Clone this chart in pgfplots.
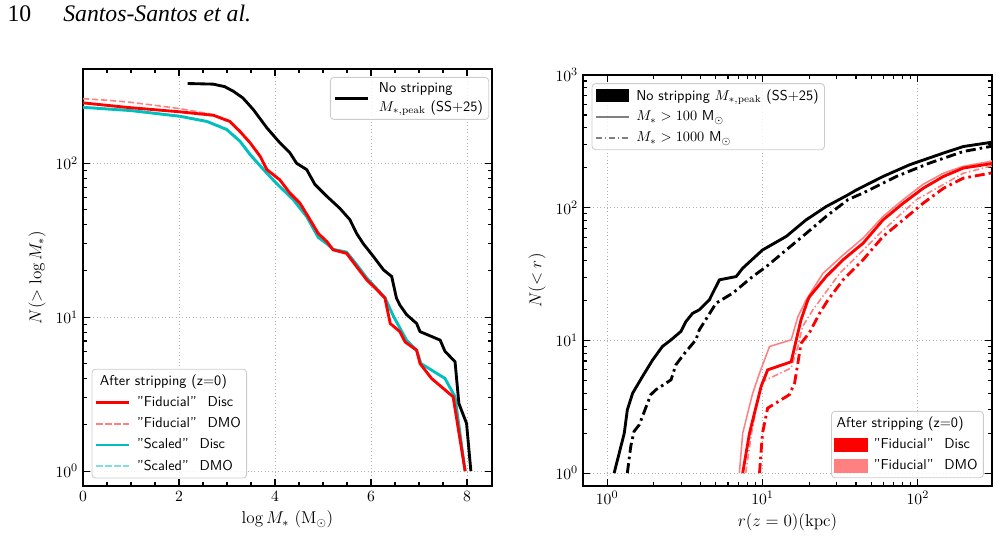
\documentclass[border=0pt]{standalone}
\usepackage{fontspec}
\newfontfamily\headfont{Liberation Serif}
\usepackage{pgfplots}
\pgfplotsset{compat=1.18}

\definecolor{fidred}{HTML}{FF0000}
\definecolor{fidredl}{HTML}{FF8080}
\definecolor{scal}{HTML}{00BFBF}
\definecolor{scall}{HTML}{80DFDF}
\definecolor{leggray}{HTML}{808080}
\definecolor{gridgray}{HTML}{B0B0B0}
\definecolor{framegray}{HTML}{CCCCCC}

\newcommand{\qgap}{\hspace{7.5pt}}

\pgfplotsset{
  paperstyle/.style={
    scale only axis,
    anchor=south west,
    axis line style={line width=1.6pt},
    tick style={black, line width=0.8pt},
    major tick length=5pt,
    minor tick length=2.8pt,
    tick align=inside,
    grid=major,
    major grid style={gridgray, dotted, line width=0.6pt},
    tick label style={font=\fontsize{10.95}{13}\selectfont},
    label style={font=\large},
    legend cell align=left,
    legend style={
      font=\sffamily\fontsize{10}{13}\selectfont,
      draw=framegray, line width=0.6pt, rounded corners=2.5pt,
      fill=white, fill opacity=0.8, text opacity=1,
      inner xsep=2pt, inner ysep=2pt, row sep=2.2pt, column sep=2.5pt,
      cells={align=left},
    },
  },
  legline/.style={legend image code/.code={\draw[sharp corners] (0pt,0pt) -- (23pt,0pt);}},
  legpatch/.style={legend image code/.code={\fill[sharp corners, fill opacity=1] (0pt,-4.3pt) rectangle (22.5pt,4.3pt);}},
  thickline/.style={line width=2pt},
  thinline/.style={line width=1.1pt},
  ddash/.style={dash pattern=on 4.4pt off 1.9pt},
  dashdotthick/.style={dash pattern=on 7pt off 2.8pt on 1.8pt off 2.8pt},
  dashdotthin/.style={dash pattern=on 4.5pt off 1.8pt on 1pt off 1.8pt},
}

\begin{document}
\begin{tikzpicture}
\useasboundingbox (0pt,0pt) rectangle (700pt,377.3pt);

% running head
\node[anchor=base west, inner sep=0pt, font=\headfont\fontsize{16.6}{20}\selectfont] at (5.1pt,362.1pt) {10};
\node[anchor=base west, inner sep=0pt, font=\headfont\itshape\fontsize{16.6}{20}\selectfont] at (44.1pt,362.1pt) {Santos-Santos et al.};

% ---------------- left panel: cumulative stellar mass function ----------------
\begin{axis}[paperstyle,
  at={(58.1pt,37.1pt)}, width=286.3pt, height=291.9pt,
  xmin=0, xmax=8.52, ymode=log, ymin=0.8, ymax=410,
  xtick={0,2,4,6,8}, minor x tick num=3, ytick={1,10,100},
  xlabel={$\log M_*\ (\mathrm{M}_\odot)$},
  ylabel={$N(>\log M_*)$},
  legend style={at={(0.021,0.018)}, anchor=south west},
]
% "Scaled" DMO
\addplot[forget plot, scall, thinline, ddash] coordinates {
(0,233) (1.0,222) (2.02,204) (2.58,189) (2.99,168) (3.27,141) (3.48,116) (3.76,92)
(4.03,75) (4.38,59) (4.66,46) (4.90,33.5) (5.08,30) (5.21,27.6) (5.49,26.5) (5.70,22)
(5.91,18) (6.12,15.3) (6.29,13.4) (6.47,10.1) (6.74,7.1) (6.95,6.1) (7.04,5.0)
(7.54,4.0) (7.75,3.04) (7.96,1.0)};
% "Scaled" Disc
\addplot[forget plot, scal, thickline] coordinates {
(0,231) (1.0,220) (2.02,202) (2.58,187) (2.99,166) (3.27,139) (3.48,114) (3.76,91)
(4.03,74) (4.38,58) (4.66,45) (4.90,33) (5.08,30) (5.21,27.6) (5.49,26.5) (5.70,22)
(5.91,18) (6.12,15.3) (6.29,13.4) (6.47,10.1) (6.74,7.1) (6.95,6.1) (7.04,5.0)
(7.54,4.0) (7.75,3.04) (7.96,1.0)};
% "Fiducial" DMO
\addplot[forget plot, fidredl, thinline, ddash] coordinates {
(0,263) (0.5,257) (1.0,249) (1.5,238) (2.0,227) (2.4,216) (2.72,207) (3.06,189)
(3.27,162) (3.48,137) (3.69,112) (3.83,92) (4.10,79) (4.31,65) (4.52,56) (4.69,46)
(4.90,35.5) (5.08,31) (5.21,27.4) (5.49,26) (5.70,21.3) (5.91,17.5) (6.12,15.1)
(6.29,13.3) (6.40,9.1) (6.60,8.06) (6.71,6.9) (6.95,6.1) (7.02,5.0) (7.26,4.0)
(7.71,3.04) (7.96,1.0)};
% "Fiducial" Disc
\addplot[forget plot, fidred, thickline] coordinates {
(0,247) (0.91,231) (2.02,216) (2.72,205) (3.06,187) (3.27,161) (3.48,136) (3.69,111)
(3.83,91) (4.10,78) (4.31,64) (4.52,55) (4.69,45) (4.90,35) (5.08,31) (5.21,27.4)
(5.49,26) (5.70,21.3) (5.91,17.5) (6.12,15.1) (6.29,13.3) (6.40,9.1) (6.60,8.06)
(6.71,6.9) (6.95,6.1) (7.02,5.0) (7.26,4.0) (7.71,3.04) (7.96,1.0)};
% no stripping, peak stellar mass
\addplot[forget plot, black, thickline] coordinates {
(2.18,330) (2.71,327) (2.95,315) (3.13,294) (3.33,266) (3.55,223) (3.83,170)
(4.10,136) (4.31,117) (4.45,100) (4.66,91) (4.83,73) (5.08,61) (5.35,51) (5.56,43)
(5.70,35) (5.84,30) (6.05,24.8) (6.26,20.3) (6.43,18.4) (6.53,13.3) (6.60,12)
(6.74,10.4) (6.95,9.1) (7.02,8.06) (7.44,7.1) (7.54,6.0) (7.75,5.14) (7.83,2.75)
(7.99,2.04) (8.08,1.0)};

\addlegendimage{empty legend}
\addlegendentry{\hspace*{-26pt}After stripping (z=0)}
\addlegendimage{legline, fidred, thickline}
\addlegendentry{"Fiducial"\qgap Disc}
\addlegendimage{legline, fidredl, line width=1.4pt, ddash}
\addlegendentry{"Fiducial"\qgap DMO}
\addlegendimage{legline, scal, thickline}
\addlegendentry{"Scaled"\qgap Disc}
\addlegendimage{legline, scall, line width=1.4pt, ddash}
\addlegendentry{"Scaled"\qgap DMO}
\end{axis}

% second legend of the left panel
\begin{axis}[paperstyle, hide axis,
  at={(58.1pt,37.1pt)}, width=286.3pt, height=291.9pt,
  xmin=0, xmax=8.52, ymode=log, ymin=0.8, ymax=410,
  legend style={at={(0.993,0.981)}, anchor=north east, column sep=5pt},
]
\addlegendimage{legline, black, thickline}
\addlegendentry{No stripping\\$M_{*,\mathrm{peak}}$ (SS+25)}
\end{axis}

% ---------------- right panel: cumulative radial distribution ----------------
\begin{axis}[paperstyle,
  at={(408.1pt,37.1pt)}, width=286.3pt, height=287.7pt,
  xmode=log, ymode=log, xmin=0.7, xmax=300, ymin=0.8, ymax=1000,
  xtick={1,10,100}, ytick={1,10,100,1000},
  xlabel={$r(z=0)(\mathrm{kpc})$},
  ylabel={$N(<r)$},
  legend style={at={(0.980,0.019)}, anchor=south east},
]
% no stripping, M* > 100
\addplot[forget plot, black, thickline] coordinates {
(1.11,1) (1.29,2.0) (1.35,3.0) (1.46,4.0) (1.69,5.35) (1.96,7.1) (2.27,9.0) (2.58,10.1)
(2.99,11.7) (3.22,13.9) (3.55,16) (3.92,17) (4.55,20.2) (4.78,22.7) (5.28,28.6)
(6.77,30.3) (7.46,35) (10.0,48) (14.2,60.7) (19.1,81) (25.7,102) (35.5,125)
(40.2,136) (59.7,172) (88.8,211) (146,258) (196,289) (291,310) (300,312)};
% no stripping, M* > 1000
\addplot[forget plot, black, thickline, dashdotthick] coordinates {
(1.35,1) (1.42,1.59) (1.49,2.06) (1.61,2.31) (1.91,3.9) (2.06,4.25) (2.58,5.05)
(2.77,6.55) (3.22,8.25) (3.73,10.1) (3.92,12) (5.03,19.1) (6.43,22.7) (8.65,30.3)
(10.6,36) (14.2,48) (19.1,64) (25.7,86) (35.5,115) (44.4,129) (72.8,172) (119,217)
(196,265) (291,289) (300,292)};
% "Fiducial" DMO, M* > 100
\addplot[forget plot, fidredl, thinline] coordinates {
(7.1,1) (7.46,2.0) (8.65,4.0) (9.57,5.67) (11.1,9.0) (15.3,10.1) (16.9,15.1)
(19.1,20.2) (24.5,32) (33,44) (44.4,59) (59.7,86) (80.4,115) (108,150) (146,182)
(196,205) (291,223) (300,225)};
% "Fiducial" DMO, M* > 1000
\addplot[forget plot, fidredl, thinline, dashdotthin] coordinates {
(7.8,1) (8.5,2.0) (9.3,3.5) (10.0,4.9) (15.3,6.2) (16.9,9.0) (18.1,12.7) (21.1,17)
(31.4,32) (56.9,64) (98,115) (196,182) (291,205) (300,206)};
% "Fiducial" Disc, M* > 100
\addplot[forget plot, fidred, thickline] coordinates {
(7.46,1) (8.25,2.0) (9.33,3.57) (9.8,4.5) (10.8,6.0) (15.3,6.9) (16.5,10.1)
(17.7,14.3) (19.6,20.2) (20.1,21.4) (25.7,30.3) (33,40.5) (44.4,54) (59.7,81)
(80.4,108) (108,140) (146,172) (196,199) (291,214) (300,216)};
% "Fiducial" Disc, M* > 1000
\addplot[forget plot, fidred, thickline, dashdotthick] coordinates {
(9.57,1) (10.0,2.0) (10.8,3.09) (14.9,3.9) (16.1,4.77) (16.9,6.75) (17.7,9.5)
(20.1,11.5) (23.3,16) (26.4,20.2) (33,28.6) (44.4,40.5) (59.7,60.7) (80.4,81)
(108,108) (146,140) (196,167) (291,182) (300,184)};

\addlegendimage{empty legend}
\addlegendentry{\hspace*{-26pt}After stripping (z=0)}
\addlegendimage{legpatch, fidred}
\addlegendentry{"Fiducial"\qgap Disc}
\addlegendimage{legpatch, fidredl}
\addlegendentry{"Fiducial"\qgap DMO}
\end{axis}

% second legend of the right panel
\begin{axis}[paperstyle, hide axis,
  at={(408.1pt,37.1pt)}, width=286.3pt, height=287.7pt,
  xmode=log, ymode=log, xmin=0.7, xmax=300, ymin=0.8, ymax=1000,
  legend style={at={(0.021,0.98)}, anchor=north west},
]
\addlegendimage{legpatch, black}
\addlegendentry{No stripping $M_{*,\mathrm{peak}}$ (SS+25)}
\addlegendimage{legline, leggray, line width=1.5pt}
\addlegendentry{$M_* > 100$ M$_\odot$}
\addlegendimage{legline, leggray, line width=1.5pt, dashdotthin}
\addlegendentry{$M_* > 1000$ M$_\odot$}
\end{axis}
\end{tikzpicture}
\end{document}
